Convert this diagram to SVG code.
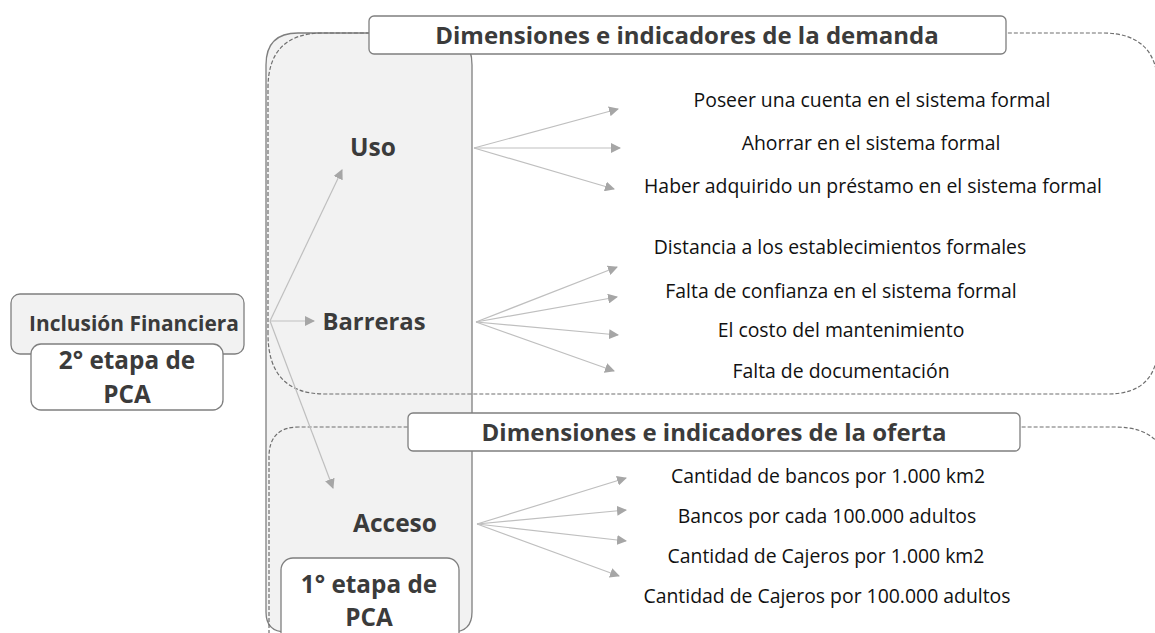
<svg xmlns="http://www.w3.org/2000/svg" width="1155" height="633" viewBox="0 0 1155 633">
<defs>
<marker id="ah" viewBox="0 0 10 10" refX="9" refY="5" markerWidth="10" markerHeight="10" markerUnits="userSpaceOnUse" orient="auto"><path d="M0,0 L10,5 L0,10 z" fill="#a6a6a6"/></marker>
<style>
.box{fill:#f2f2f2;stroke:#7f7f7f;stroke-width:1.3}
.wbox{fill:#ffffff;stroke:#7f7f7f;stroke-width:1.3}
.dash{fill:none;stroke:#6f6f6f;stroke-width:1.2;stroke-dasharray:4,2}
.conn{stroke:#bfbfbf;stroke-width:1.2;fill:none;marker-end:url(#ah)}
.lbl{font-family:"Open Sans","Liberation Sans",sans-serif;font-weight:bold;fill:#3b3b3b;text-anchor:middle}
.item{font-family:"Open Sans","Liberation Sans",sans-serif;font-size:19.4px;fill:#111;text-anchor:middle}
.hdr{font-family:"Open Sans","Liberation Sans",sans-serif;font-weight:bold;font-size:24px;fill:#3b3b3b;text-anchor:middle}
</style>
</defs>
<rect width="1155" height="633" fill="#fff"/>
<g id="gray-panel">
<path class="box" d="M266,65 Q266,33 298,33 L440,33 Q472,33 472,65 L472,612 Q472,632 452,632 L286,632 Q266,632 266,612 Z"/>
</g>
<g id="demand-outline">
<path class="dash" d="M268,334 L268,88 Q268,33 323,33 L1103,33 Q1158,33 1158,88 L1158,344 Q1158,394 1108,394 L325,394 Q268,394 268,334"/>
</g>
<g id="offer-outline">
<path class="dash" d="M269,640 L269,457 Q269,427 299,427 L1115,427 Q1170,427 1170,482 L1170,640"/>
</g>
<g id="connectors">
<line class="conn" x1="270" y1="321" x2="342" y2="170"/>
<line class="conn" x1="270" y1="321" x2="314" y2="321"/>
<line class="conn" x1="270" y1="321" x2="333" y2="488"/>
<line class="conn" x1="474" y1="148" x2="618" y2="109"/>
<line class="conn" x1="474" y1="148" x2="620" y2="148"/>
<line class="conn" x1="474" y1="148" x2="614" y2="189"/>
<line class="conn" x1="476" y1="322" x2="617" y2="267"/>
<line class="conn" x1="476" y1="322" x2="617" y2="297"/>
<line class="conn" x1="476" y1="322" x2="618" y2="335"/>
<line class="conn" x1="476" y1="322" x2="614" y2="371"/>
<line class="conn" x1="477" y1="524" x2="626" y2="478"/>
<line class="conn" x1="477" y1="524" x2="626" y2="510"/>
<line class="conn" x1="477" y1="524" x2="626" y2="541"/>
<line class="conn" x1="477" y1="524" x2="619" y2="576"/>
</g>
<g id="demand-header">
<rect class="wbox" x="369" y="16" width="637" height="38" rx="5"/>
<text class="hdr" x="687" y="44">Dimensiones e indicadores de la demanda</text>
</g>
<g id="offer-header">
<rect class="wbox" x="408" y="413" width="612" height="38" rx="5"/>
<text class="hdr" x="714" y="441">Dimensiones e indicadores de la oferta</text>
</g>
<g id="inclusion">
<rect class="box" x="11" y="294" width="233" height="60" rx="9"/>
<text class="lbl" x="134" y="331" font-size="20.9">Inclusión Financiera</text>
</g>
<g id="etapa2">
<rect class="wbox" x="31" y="344" width="192" height="66" rx="10"/>
<text class="lbl" x="127" y="369" font-size="24.3">2° etapa de</text>
<text class="lbl" x="127" y="403" font-size="24.3">PCA</text>
</g>
<g id="uso"><text class="lbl" x="373" y="156" font-size="24.5">Uso</text></g>
<g id="barreras"><text class="lbl" x="374" y="330" font-size="23.8">Barreras</text></g>
<g id="acceso"><text class="lbl" x="395" y="532" font-size="24.5">Acceso</text></g>
<g id="etapa1">
<rect class="wbox" x="281" y="558" width="178" height="90" rx="12"/>
<text class="lbl" x="369" y="593" font-size="24.3">1° etapa de</text>
<text class="lbl" x="369" y="626" font-size="24.3">PCA</text>
</g>
<g id="uso-items">
<text class="item" x="872" y="107">Poseer una cuenta en el sistema formal</text>
<text class="item" x="871" y="150">Ahorrar en el sistema formal</text>
<text class="item" x="873" y="193">Haber adquirido un préstamo en el sistema formal</text>
</g>
<g id="barreras-items">
<text class="item" x="840" y="254">Distancia a los establecimientos formales</text>
<text class="item" x="841" y="298">Falta de confianza en el sistema formal</text>
<text class="item" x="841" y="337">El costo del mantenimiento</text>
<text class="item" x="841" y="378">Falta de documentación</text>
</g>
<g id="acceso-items">
<text class="item" x="828" y="483">Cantidad de bancos por 1.000 km2</text>
<text class="item" x="827" y="523">Bancos por cada 100.000 adultos</text>
<text class="item" x="826" y="563">Cantidad de Cajeros por 1.000 km2</text>
<text class="item" x="827" y="603">Cantidad de Cajeros por 100.000 adultos</text>
</g>
</svg>
